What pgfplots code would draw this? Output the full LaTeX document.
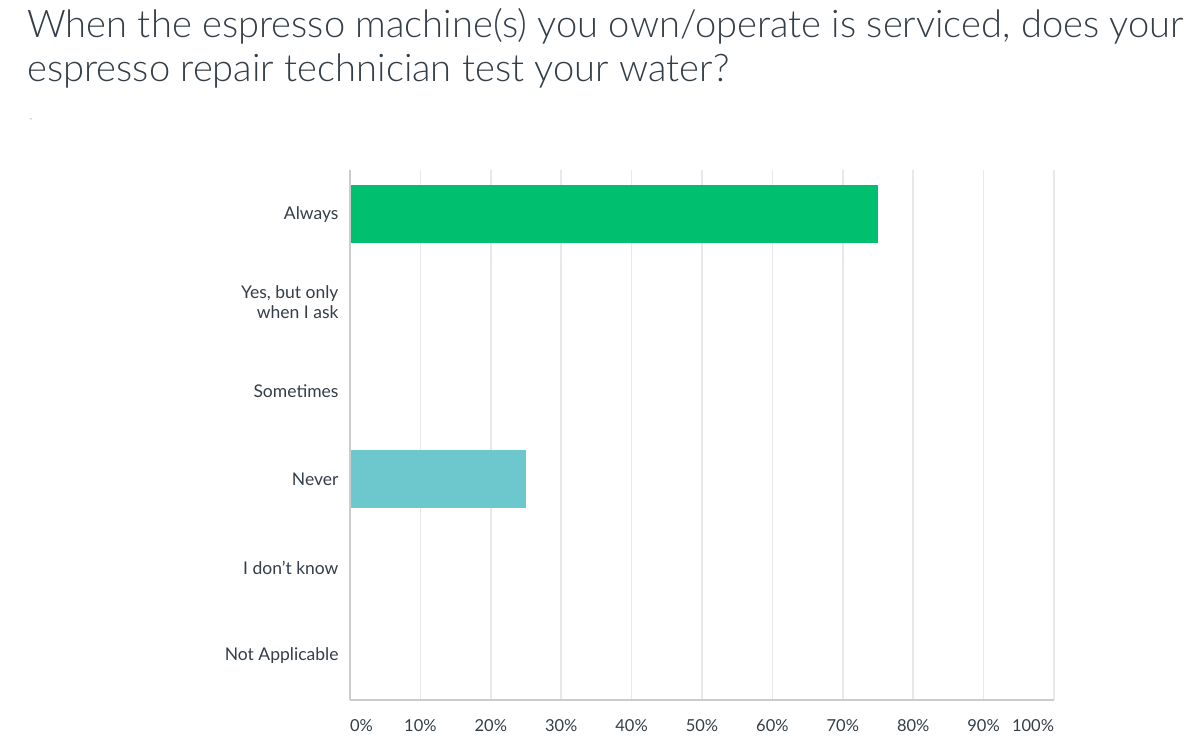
\documentclass[border=0pt]{standalone}
\usepackage{pgfplots}
\pgfplotsset{compat=1.18}
\usepackage{fontspec}
\setmainfont{Lato}
\newfontfamily\titlefont{Lato}[UprightFont={* Light}]
\definecolor{smgreen}{HTML}{00BF6F}
\definecolor{smteal}{HTML}{6CC8CD}
\definecolor{txt}{HTML}{333E48}
\definecolor{gridc}{HTML}{E8E8E8}
\definecolor{axc}{HTML}{CCCCCC}
\begin{document}
\begin{tikzpicture}
\path[use as bounding box] (0,0) rectangle (1200pt,754pt);
\node[anchor=base west, inner sep=0pt, text=txt, font=\titlefont\fontsize{38.1}{44}\selectfont] at (27pt,716pt) {When the espresso machine(s) you own/operate is serviced, does your};
\node[anchor=base west, inner sep=0pt, text=txt, font=\titlefont\fontsize{38.1}{44}\selectfont] at (27pt,672pt) {espresso repair technician test your water?};
\node[anchor=center, inner sep=0pt, text=txt!60, font=\fontsize{8}{8}\selectfont] at (31pt,634pt) {,};
\begin{axis}[
  at={(350pt,54pt)}, anchor=south west,
  scale only axis, width=704pt, height=530pt,
  xbar, bar width=58pt,
  xmin=0, xmax=100,
  ymin=-0.5, ymax=5.5, y dir=reverse,
  ytick={0,1,2,3,4,5},
  yticklabels={Always,{Yes, but only\\when I ask},Sometimes,Never,I don’t know,Not Applicable},
  xtick={0,10,...,100},
  xticklabels={\makebox[0pt][l]{0\%},10\%,20\%,30\%,40\%,50\%,60\%,70\%,80\%,90\%,\makebox[0pt][r]{100\%}},
  xmajorgrids, major grid style={gridc, line width=1.5pt},
  axis line style={draw=none},
  major tick length=0pt,
  tick style={draw=none},
  yticklabel style={align=right, text=txt, font=\fontsize{17.5}{20}\selectfont, xshift=-8pt},
  xticklabel style={text=txt, font=\fontsize{16.5}{20}\selectfont, yshift=-16pt},
  /pgf/number format/assume math mode=true,
  clip=false,
]
\addplot[fill=smgreen, draw=none, bar shift=0pt] coordinates {(75,0)};
\addplot[fill=smteal, draw=none, bar shift=0pt] coordinates {(25,3)};
\draw[axc, line width=2pt] (axis description cs:0,0) -- (axis description cs:0,1);
\draw[axc, line width=2pt] (axis description cs:0,0) -- (axis description cs:1,0);
\end{axis}
\end{tikzpicture}
\end{document}
